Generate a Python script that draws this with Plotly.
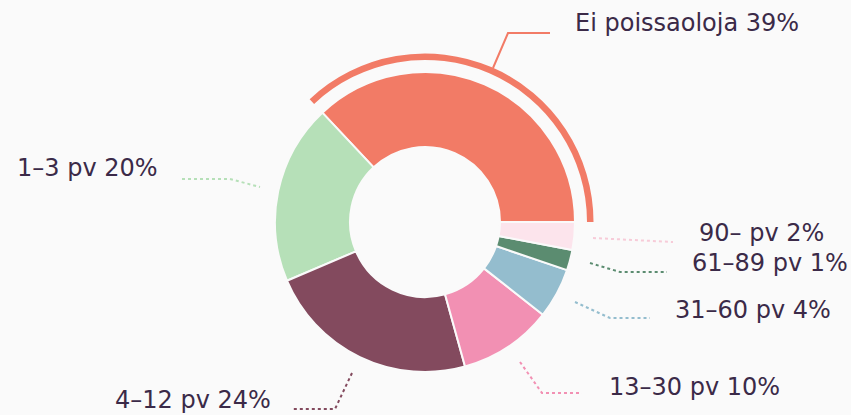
import plotly.graph_objects as go

# ---- data ----
categories = ["Ei poissaoloja", "1–3 pv", "4–12 pv", "13–30 pv", "31–60 pv", "61–89 pv", "90– pv"]
label_pct = [39, 20, 24, 10, 4, 1, 2]            # percentages printed in labels
slice_share = [37.0, 19.4, 22.9, 10.1, 5.4, 2.2, 3.0]  # slice sizes as drawn
colors = ["#F27B66", "#B6E0B8", "#834A5E", "#F290B3", "#94BDCE", "#5B8C70", "#FCE4EC"]

W, H = 851, 415
CX, CY, R = 425, 222, 150      # donut centre / radius in px
ARC_R = 168.5                  # outer highlight arc radius
TEXT = "#3B2A48"
FONT = "DejaVu Sans, sans-serif"

total = sum(slice_share)
# first slice should run counter-clockwise from 3 o'clock
ROT = 90 - 360 * slice_share[0] / total


def px(x, y):
    return x / W, 1 - y / H


fig = go.Figure()
fig.add_trace(go.Pie(
    labels=categories, values=slice_share, sort=False, direction="counterclockwise",
    rotation=ROT, hole=0.5, textinfo="none", hoverinfo="label",
    marker=dict(colors=colors, line=dict(color="#FAFAFA", width=2)),
    domain=dict(x=[(CX - R) / W, (CX + R) / W], y=[1 - (CY + R) / H, 1 - (CY - R) / H]),
    showlegend=False,
))
# outer highlight arc on the first slice
fig.add_trace(go.Pie(
    labels=[categories[0], "rest"], values=[slice_share[0], total - slice_share[0]], sort=False,
    direction="counterclockwise", rotation=ROT, hole=162 / ARC_R, textinfo="none", hoverinfo="skip",
    marker=dict(colors=[colors[0], "rgba(0,0,0,0)"], line=dict(width=0)),
    domain=dict(x=[(CX - ARC_R) / W, (CX + ARC_R) / W], y=[1 - (CY + ARC_R) / H, 1 - (CY - ARC_R) / H]),
    showlegend=False,
))

# label placement (layout only): left x, centre y in px
label_pos = [(573, 23), (15, 168), (113, 400), (607, 387), (673, 310), (690, 263), (697, 233)]
# leader line paths (layout only), px points
leaders = [
    [(493, 68), (508, 33), (550, 33)],
    [(182, 179), (230, 179), (260, 187)],
    [(352, 373), (335, 409), (293, 409)],
    [(520, 362), (542, 393), (582, 393)],
    [(575, 302), (610, 318), (650, 318)],
    [(590, 263), (620, 272), (667, 272)],
    [(593, 238), (673, 242)],
]

shapes = []
for i, pts in enumerate(leaders):
    path = ""
    for j, (x, y) in enumerate(pts):
        xx, yy = px(x, y)
        path += ("M" if j == 0 else "L") + f"{xx},{yy} "
    shapes.append(dict(type="path", path=path, xref="paper", yref="paper",
                       line=dict(color=colors[i] if i != 6 else "#F7CBD8", width=2,
                                 dash="solid" if i == 0 else "dot")))

annotations = []
for i, (cat, pct) in enumerate(zip(categories, label_pct)):
    x, y = label_pos[i]
    xx, yy = px(x, y)
    annotations.append(dict(text=f"{cat} {pct}%", x=xx, y=yy, xref="paper", yref="paper",
                            xanchor="left", yanchor="middle", showarrow=False,
                            font=dict(family=FONT, size=24, color=TEXT)))

fig.update_layout(width=W, height=H, margin=dict(l=0, r=0, t=0, b=0),
                  paper_bgcolor="#FAFAFA", plot_bgcolor="#FAFAFA",
                  shapes=shapes, annotations=annotations)
fig.write_html("out.html", config={"displayModeBar": False},
               post_script="document.body.style.margin='0';")
